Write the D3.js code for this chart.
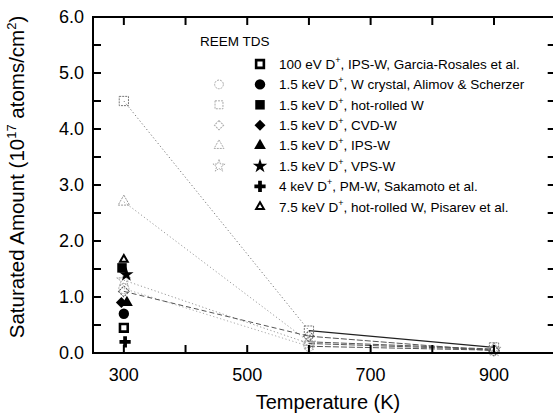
<!DOCTYPE html>
<html><head><meta charset="utf-8">
<script src="https://cdn.jsdelivr.net/npm/d3@7/dist/d3.min.js"></script>
<style>
body{margin:0;background:#fff}
text{font-family:Arial,"Liberation Sans",Helvetica,sans-serif;fill:#000}
</style>
</head><body>
<svg id="chart" width="553" height="417"></svg>
<script>
// Temperatures of the re-emission (REEM) runs
const reemTemps = [300, 600, 900];
// REEM saturated amounts (10^17 atoms/cm^2), open symbols
const reemCircle   = [1.15, 0.12, 0.05];
const reemSquare   = [4.5, 0.4, 0.1];
const reemDiamond  = [1.1, 0.3, 0.04];
const reemTriangle = [2.7, 0.2, 0.07];
const reemStar     = [1.3, 0.17, 0.06];

// TDS results, one point each near room temperature
const tdsLabels = [
  "100 eV D|+|, IPS-W, Garcia-Rosales et al.",
  "1.5 keV D|+|, W crystal,  Alimov & Scherzer",
  "1.5 keV D|+|, hot-rolled W",
  "1.5 keV D|+|, CVD-W",
  "1.5 keV D|+|, IPS-W",
  "1.5 keV D|+|, VPS-W",
  "4 keV D|+|, PM-W, Sakamoto et al.",
  "7.5 keV D|+|, hot-rolled W, Pisarev et al."
];
const tdsTemps  = [300, 300, 297, 296, 305, 304, 302, 300];
const tdsValues = [0.45, 0.7, 1.52, 0.9, 0.9, 1.4, 0.2, 1.67];

const xTickLabels = [300, 500, 700, 900];
const xMinorTicks = [300, 400, 500, 600, 700, 800, 900];
const yTickLabels = [0, 1, 2, 3, 4, 5, 6];
const yMinorTicks = [0.5, 1, 1.5, 2, 2.5, 3, 3.5, 4, 4.5, 5, 5.5];

const svg = d3.select("#chart");
const x = d3.scaleLinear().domain([250, 1000]).range([93, 555.7]);
const y = d3.scaleLinear().domain([0, 6]).range([353, 17]);

// symbol generators
const sym = (type, size) => d3.symbol().type(type).size(size)();
const shapes = {
  squareDot: {type: d3.symbolSquare, size: 60},
  circle:    {type: d3.symbolCircle, size: 85},
  square:    {type: d3.symbolSquare, size: 90},
  diamond:   {type: d3.symbolSquare, size: 60, rot: 45},
  triangle:  {type: d3.symbolTriangle, size: 60},
  star:      {type: d3.symbolStar, size: 65},
  plus:      {type: d3.symbolCross, size: 70},
  openTri:   {type: d3.symbolTriangle, size: 26}
};
const tdsShapes = ["squareDot","circle","square","diamond","triangle","star","plus","openTri"];

function drawFilled(g, key, cx, cy) {
  const s = shapes[key];
  const p = g.append("path")
    .attr("d", sym(s.type, s.size))
    .attr("transform", `translate(${cx},${cy})` + (s.rot ? ` rotate(${s.rot})` : ""));
  if (key === "squareDot" || key === "openTri") {
    p.attr("fill", "#fff").attr("stroke", "#000").attr("stroke-width", key === "squareDot" ? 2.6 : 2);
  } else {
    p.attr("fill", "#000");
  }
}
function drawOpen(g, key, cx, cy, color, scale) {
  const s = shapes[key];
  g.append("path")
    .attr("d", sym(s.type, s.size * scale))
    .attr("transform", `translate(${cx},${cy})` + (s.rot ? ` rotate(${s.rot})` : ""))
    .attr("fill", "none").attr("stroke", color).attr("stroke-width", 1)
    .attr("stroke-dasharray", "2,1");
}

// REEM curves: dotted segments 300->600, converging darker segments 600->900
const reem = [
  {key: "square",   v: reemSquare,   c: "#777"},
  {key: "triangle", v: reemTriangle, c: "#999"},
  {key: "star",     v: reemStar,     c: "#999"},
  {key: "circle",   v: reemCircle,   c: "#aaa"},
  {key: "diamond",  v: reemDiamond,  c: "#555"}
];
const lineG = svg.append("g");
reem.forEach((s, i) => {
  const pts = reemTemps.map((t, j) => [x(t), y(s.v[j])]);
  lineG.append("path")
    .attr("d", d3.line()(pts.slice(0, 2)))
    .attr("fill", "none").attr("stroke", s.c).attr("stroke-width", 1)
    .attr("stroke-dasharray", s.key === "diamond" ? "5,3" : "1.2,2.4");
  lineG.append("path")
    .attr("d", d3.line()(pts.slice(1)))
    .attr("fill", "none").attr("stroke", i === 0 ? "#222" : "#555").attr("stroke-width", i === 0 ? 1.4 : 1)
    .attr("stroke-dasharray", i === 0 ? null : "6,2");
  pts.forEach(p => drawOpen(lineG, s.key, p[0], p[1], s.c, 0.95));
});

// TDS points
const ptG = svg.append("g");
tdsValues.forEach((v, i) => drawFilled(ptG, tdsShapes[i], x(tdsTemps[i]), y(v)));

// frame and axes
const axG = svg.append("g").attr("stroke", "#000");
const x0 = x.range()[0], x1 = x.range()[1], y0 = y.range()[0], y1 = y.range()[1];
axG.append("rect").attr("x", x0).attr("y", y1).attr("width", x1 - x0).attr("height", y0 - y1)
  .attr("fill", "none").attr("stroke-width", 2);
// inward ticks on all four sides
xMinorTicks.forEach(t => {
  axG.append("line").attr("x1", x(t)).attr("x2", x(t)).attr("y1", y0).attr("y2", y0 - 8).attr("stroke-width", 2);
  axG.append("line").attr("x1", x(t)).attr("x2", x(t)).attr("y1", y1).attr("y2", y1 + 8).attr("stroke-width", 2);
});
yMinorTicks.forEach(t => {
  axG.append("line").attr("x1", x0).attr("x2", x0 + 8).attr("y1", y(t)).attr("y2", y(t)).attr("stroke-width", 2);
  axG.append("line").attr("x1", x1).attr("x2", x1 - 8).attr("y1", y(t)).attr("y2", y(t)).attr("stroke-width", 2);
});

// tick labels
svg.append("g").selectAll("text").data(yTickLabels).join("text")
  .attr("x", 84).attr("y", d => y(d)).attr("dy", "0.35em")
  .attr("text-anchor", "end").attr("font-size", 18).text(d => d3.format(".1f")(d));
svg.append("g").selectAll("text").data(xTickLabels).join("text")
  .attr("x", d => x(d)).attr("y", 381)
  .attr("text-anchor", "middle").attr("font-size", 18).text(d => d);

// axis titles
svg.append("text").attr("x", 328).attr("y", 409).attr("text-anchor", "middle")
  .attr("font-size", 20).text("Temperature (K)");
const yt = svg.append("text").attr("transform", "translate(24,177) rotate(-90)")
  .attr("text-anchor", "middle").attr("font-size", 20.5);
yt.append("tspan").text("Saturated Amount (10");
yt.append("tspan").attr("font-size", 13).attr("dy", -8).text("17");
yt.append("tspan").attr("dy", 8).text(" atoms/cm");
yt.append("tspan").attr("font-size", 13).attr("dy", -8).text("2");
yt.append("tspan").attr("dy", 8).text(")");

// legend
const lg = svg.append("g");
lg.append("text").attr("x", 200).attr("y", 46).attr("font-size", 13.5).text("REEM TDS");
const rowY = i => 64 + i * 20.4;
const openRows = {1: "circle", 2: "square", 3: "diamond", 4: "triangle", 5: "star"};
tdsLabels.forEach((lab, i) => {
  const cy = rowY(i);
  if (openRows[i]) drawOpen(lg, openRows[i], 219, cy, "#aaa", 0.7);
  drawFilled(lg, tdsShapes[i], 260, cy);
  const parts = lab.split("|");
  const t = lg.append("text").attr("x", 279).attr("y", cy).attr("dy", "0.36em").attr("font-size", 13.5);
  t.append("tspan").text(parts[0]);
  t.append("tspan").attr("font-size", 9).attr("dy", -6).text(parts[1]);
  t.append("tspan").attr("dy", 6).text(parts[2]);
});
</script>
</body></html>
